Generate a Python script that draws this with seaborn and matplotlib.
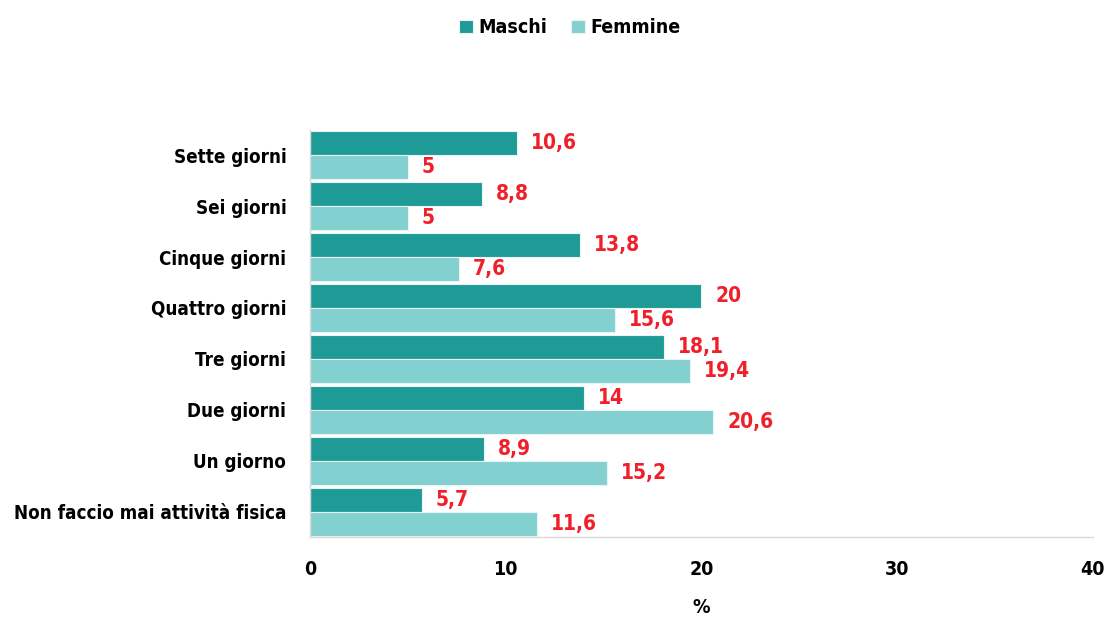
import matplotlib
matplotlib.use("Agg")
import matplotlib.pyplot as plt
import seaborn as sns
import pandas as pd

categories = ["Sette giorni", "Sei giorni", "Cinque giorni", "Quattro giorni",
              "Tre giorni", "Due giorni", "Un giorno", "Non faccio mai attività fisica"]
maschi = [10.6, 8.8, 13.8, 20, 18.1, 14, 8.9, 5.7]
femmine = [5, 5, 7.6, 15.6, 19.4, 20.6, 15.2, 11.6]
series = ["Maschi", "Femmine"]
xticks = [0, 10, 20, 30, 40]

sns.set_style("white")
plt.rcParams['font.family'] = ['DejaVu Sans']
plt.rcParams['font.stretch'] = 'condensed'
plt.rcParams['text.color'] = 'black'
plt.rcParams['axes.labelcolor'] = 'black'
plt.rcParams['xtick.color'] = 'black'
plt.rcParams['ytick.color'] = 'black'

df = pd.DataFrame({
    "cat": categories * 2,
    "val": maschi + femmine,
    "sesso": [series[0]] * len(categories) + [series[1]] * len(categories),
})

fig = plt.figure(figsize=(11.09, 6.17), dpi=100)
ax = fig.add_axes([0.2795, 0.129, 0.706, 0.661])
sns.barplot(data=df, y="cat", x="val", hue="sesso", orient="h",
            palette=["#1E9A97", "#83D0D0"], saturation=1, width=0.94, ax=ax,
            edgecolor="#E8F4F4", linewidth=0.8, legend=True)

for cont in ax.containers:
    labels = [("%g" % b.get_width()).replace(".", ",") for b in cont]
    ax.bar_label(cont, labels=labels, padding=10, color="#F0202A",
                 fontsize=15, fontweight="bold", fontstretch="condensed")

ax.set_xlim(0, 40)
ax.set_ylim(7.5, -0.5)
ax.set_xticks(xticks)
ax.tick_params(axis="x", labelsize=14, pad=16, length=0)
ax.tick_params(axis="y", labelsize=13.5, pad=17, length=0)
for lab in ax.get_xticklabels() + ax.get_yticklabels():
    lab.set_fontweight("bold")
    lab.set_fontstretch("condensed")
ax.set_ylabel("")
ax.set_xlabel("%", fontsize=14, fontweight="bold", labelpad=14)

for s in ["top", "right"]:
    ax.spines[s].set_visible(False)
for s in ["left", "bottom"]:
    ax.spines[s].set_color("#D9D9D9")
    ax.spines[s].set_linewidth(1)

ax.legend_.remove()
handles, labs = ax.get_legend_handles_labels()
fig.legend(handles, labs, loc="center", bbox_to_anchor=(0.514, 0.955), ncol=2,
           frameon=False, prop={"size": 14, "weight": "bold", "stretch": "condensed"},
           handlelength=0.7, handleheight=0.7, handletextpad=0.3, columnspacing=1.2)

fig.savefig("out.png", dpi=100)
